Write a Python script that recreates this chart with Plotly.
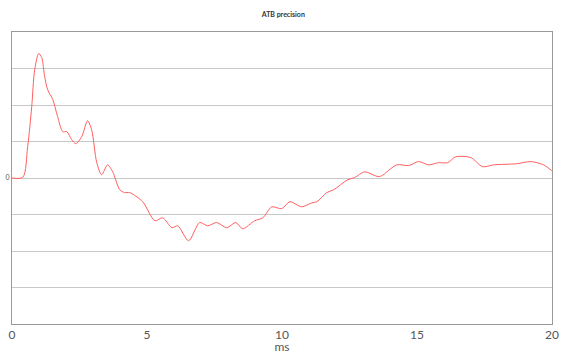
import plotly.graph_objects as go

# Data (time in ms, precision value)
time_ms = [0, 0.40, 0.58, 0.73, 0.84, 0.99, 1.10, 1.21, 1.32, 1.51, 1.69, 1.88, 2.03, 2.21,
           2.36, 2.58, 2.80, 2.95, 3.14, 3.32, 3.54, 3.73, 3.99, 4.17, 4.36, 4.84, 5.29,
           5.58, 5.92, 6.14, 6.54, 6.95, 7.25, 7.58, 7.95, 8.29, 8.54, 8.99, 9.29, 9.62,
           9.99, 10.29, 10.73, 11.10, 11.29, 11.66, 11.92, 12.43, 12.69, 13.06, 13.54,
           13.69, 14.25, 14.69, 15.06, 15.43, 15.80, 16.14, 16.43, 16.99, 17.43, 17.84,
           18.69, 19.21, 19.69, 19.99]
precision = [0, 0.02, 0.86, 1.95, 2.97, 3.41, 3.30, 2.78, 2.42, 2.15, 1.68, 1.27, 1.27, 1.05,
             0.94, 1.13, 1.57, 1.32, 0.42, 0.09, 0.36, 0.17, -0.32, -0.40, -0.40, -0.65, -1.17,
             -1.09, -1.36, -1.31, -1.72, -1.22, -1.31, -1.22, -1.36, -1.22, -1.39, -1.17, -1.09,
             -0.79, -0.84, -0.65, -0.79, -0.68, -0.65, -0.40, -0.32, -0.05, 0.01, 0.17, 0.04,
             0.06, 0.36, 0.34, 0.45, 0.36, 0.42, 0.42, 0.58, 0.56, 0.31, 0.36, 0.39, 0.45,
             0.36, 0.20]

x_tick_vals = [0, 5, 10, 15, 20]
x_tick_text = ["0", "5", "10", "15", "20"]
y_tick_vals = [-4, -3, -2, -1, 0, 1, 2, 3, 4]
y_tick_text = ["", "", "", "", "0", "", "", "", ""]

fig = go.Figure()
fig.add_trace(go.Scatter(
    x=time_ms, y=precision, mode="lines",
    line=dict(color="rgb(255,95,95)", width=1, shape="spline", smoothing=0.8),
    showlegend=False, hoverinfo="skip",
))

fig.update_layout(
    width=561, height=354,
    margin=dict(l=12, r=9, t=32, b=30, autoexpand=False),
    paper_bgcolor="white", plot_bgcolor="white",
    font=dict(family="Lato, DejaVu Sans, sans-serif", color="#444"),
    title=dict(text="<b>ATB precision</b>", x=0.505, xanchor="center", y=0.958, yanchor="middle",
               font=dict(size=7, color="#333")),
)
fig.update_xaxes(
    range=[0, 20], tickvals=x_tick_vals, ticktext=x_tick_text, automargin=False,
    showgrid=False, zeroline=False, showline=True, mirror=True,
    linecolor="#9a9a9a", linewidth=1, ticks="", ticklen=0,
    tickfont=dict(size=12, color="#555"),
    title=dict(text="ms", font=dict(size=12, color="#555"), standoff=2),
)
fig.update_yaxes(
    range=[-4, 4], tickvals=y_tick_vals, ticktext=y_tick_text, automargin=False,
    showgrid=True, gridcolor="#c8c8c8", gridwidth=1, zeroline=False,
    showline=True, mirror=True, linecolor="#9a9a9a", linewidth=1,
    ticks="", tickfont=dict(size=7, color="#555"),
)

fig.write_html(
    "out.html",
    config={"displayModeBar": False},
    post_script="document.body.style.margin='0';document.body.style.overflow='hidden';",
)
